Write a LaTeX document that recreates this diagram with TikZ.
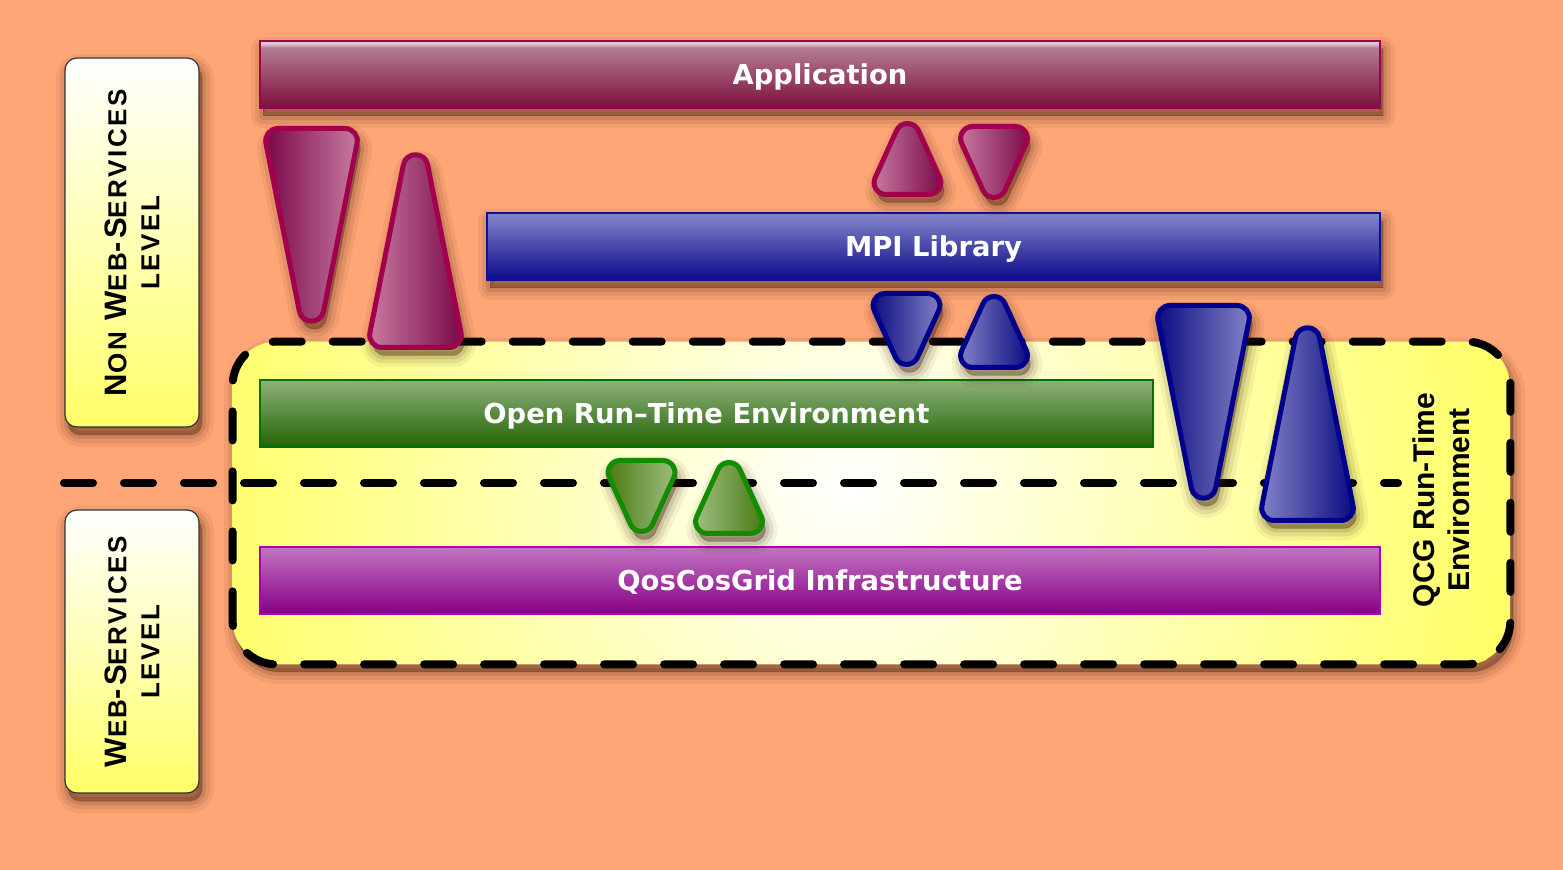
\documentclass[tikz,border=0pt]{standalone}
\usepackage{fontspec}
\usetikzlibrary{calc}
\setmainfont{DejaVu Sans}
\newfontfamily\lvlfont[LetterSpace=10]{Liberation Sans}
\newfontfamily\qcgfont{Liberation Sans}
\definecolor{bgc}{RGB}{255,166,118}
\definecolor{yellowc}{RGB}{255,255,104}
\definecolor{shadowc}{RGB}{60,28,12}
% bars
\definecolor{apph}{RGB}{226,200,210}
\definecolor{appt}{RGB}{180,124,144}
\definecolor{appd}{RGB}{124,14,62}
\definecolor{appb}{RGB}{160,0,75}
\definecolor{mpit}{RGB}{134,134,204}
\definecolor{mpid}{RGB}{10,10,136}
\definecolor{mpib}{RGB}{16,16,146}
\definecolor{ortet}{RGB}{142,178,122}
\definecolor{orted}{RGB}{34,100,6}
\definecolor{orteb}{RGB}{0,112,0}
\definecolor{qcgt}{RGB}{194,116,194}
\definecolor{qcgd}{RGB}{134,0,134}
\definecolor{qcgb}{RGB}{176,0,176}
% triangles
\definecolor{crd}{RGB}{122,8,72}
\definecolor{crl}{RGB}{200,124,162}
\definecolor{crb}{RGB}{160,0,76}
\definecolor{bld}{RGB}{10,10,128}
\definecolor{bll}{RGB}{132,132,200}
\definecolor{blb}{RGB}{0,0,140}
\definecolor{grd}{RGB}{72,122,18}
\definecolor{grl}{RGB}{162,192,132}
\definecolor{grb}{RGB}{20,140,0}
\pgfdeclareradialshading{qcgshade}{\pgfpoint{0bp}{0bp}}{color(0bp)=(white); color(25bp)=(yellowc); color(50bp)=(yellowc)}
\pgfdeclareverticalshading{appshade}{100bp}{color(0bp)=(appd); color(25bp)=(appd); color(70bp)=(appt); color(73bp)=(apph); color(75bp)=(apph); color(100bp)=(apph)}
\newcommand\fsc[2]{{\fontsize{15.5}{16.5}\selectfont #1}{\fontsize{13}{16.5}\selectfont #2}}
% rounded triangle: #1 options, #2 apex, #3 #4 base corners,
% #5 #6 tangent distances (pt) at apex / base, #7 #8 control factors at apex / base
\newcommand\rtri[8]{%
  \path[#1] ($(#2)!#5pt!(#3)$) -- ($(#3)!#6pt!(#2)$)
    .. controls ($(#3)!#8*#6pt!(#2)$) and ($(#3)!#8*#6pt!(#4)$) .. ($(#3)!#6pt!(#4)$)
    -- ($(#4)!#6pt!(#3)$)
    .. controls ($(#4)!#8*#6pt!(#3)$) and ($(#4)!#8*#6pt!(#2)$) .. ($(#4)!#6pt!(#2)$)
    -- ($(#2)!#5pt!(#4)$)
    .. controls ($(#2)!#7*#5pt!(#4)$) and ($(#2)!#7*#5pt!(#3)$) .. ($(#2)!#5pt!(#3)$)
    -- cycle;}
\newcommand\tallDown[3]{\rtri{#1}{{#2},{#3+246}}{{#2-48.5},{#3+2.5}}{{#2+48.5},{#3+2.5}}{31}{7.5}{0.78}{0.48}}
\newcommand\tallUp[3]{\rtri{#1}{{#2},{#3-246}}{{#2+48.5},{#3-2.5}}{{#2-48.5},{#3-2.5}}{31}{7.5}{0.78}{0.48}}
\newcommand\smallDown[3]{\rtri{#1}{{#2},{#3+90.5}}{{#2-40},{#3+2.5}}{{#2+40},{#3+2.5}}{13.2}{9.3}{0.61}{0.53}}
\newcommand\smallUp[3]{\rtri{#1}{{#2},{#3-90.5}}{{#2+40},{#3-2.5}}{{#2-40},{#3-2.5}}{13.2}{9.3}{0.61}{0.53}}
\tikzset{
  shadowlayer/.style={draw=shadowc, fill=shadowc, draw opacity=#1, fill opacity=#1, solid, line join=round},
  softshadow/.style={
    preaction={shadowlayer=0.06, line width=12pt, transform canvas={shift={(1.5pt,-4pt)}}},
    preaction={shadowlayer=0.09, line width=8pt, transform canvas={shift={(1.5pt,-4pt)}}},
    preaction={shadowlayer=0.12, line width=4pt, transform canvas={shift={(1.5pt,-4pt)}}},
    preaction={shadowlayer=0.16, line width=0.5pt, transform canvas={shift={(1.5pt,-4pt)}}}},
  bar/.style={draw, line width=1pt, text=white, inner sep=0pt, text height=9.9pt, text depth=0pt,
    font=\bfseries\fontsize{13.7}{16}\selectfont, minimum height=33.5pt},
  lvlbox/.style={draw=black!80, line width=0.6pt, rounded corners=6pt, top color=white,
    bottom color=yellowc, minimum width=67pt, inner sep=0pt, softshadow},
  lvltext/.style={rotate=90, align=center, font=\lvlfont\bfseries\fontsize{15.5}{16.5}\selectfont},
  qcgbox/.style={fill=yellowc, rounded corners=22pt, minimum width=638.5pt,
    minimum height=161pt, inner sep=0pt, softshadow},
  dashline/.style={line width=4pt, line cap=round, dash pattern=on 14.5pt off 15.5pt},
  tri/.style={line width=2.5pt, line join=round, softshadow}
}
\begin{document}
\begin{tikzpicture}[x=0.5pt, y=-0.5pt]
\useasboundingbox (0,0) rectangle (1563,870);
\fill[bgc] (0,0) rectangle (1563,870);

% level boxes
\node[lvlbox, minimum height=184.5pt] (nonws) at (132,242.5) {};
\node[lvltext] (nonwst) at (nonws.center) {\fsc{N}{ON} \fsc{W}{EB}-\fsc{S}{ERVICES}\\\fsc{}{LEVEL}};
\node[lvlbox, minimum height=141.5pt] (ws) at (132,651.5) {};
\node[lvltext] (wst) at (ws.center) {\fsc{W}{EB}-\fsc{S}{ERVICES}\\\fsc{}{LEVEL}};

% QCG region
\node[qcgbox] (qcg) at (871.5,503) {};
\begin{scope}
  \clip[rounded corners=22pt] (qcg.south west) rectangle (qcg.north east);
  \shade[shading=qcgshade] (850,485) circle (330pt);
\end{scope}
\draw[dashline, rounded corners=22pt] (qcg.south west) rectangle (qcg.north east);
\node[rotate=90, align=center, font=\qcgfont\bfseries\fontsize{15}{17.5}\selectfont] (qcgt) at (1441,500) {QCG Run-Time\\Environment};

% separating line
\coordinate (sepl) at (64,483);
\coordinate (sepr) at (1398,483);
\draw[dashline] (sepl) -- (sepr);

% bars
\node[bar, softshadow, draw=appb, shading=appshade, minimum width=560pt] (app) at (820,74.5) {Application};
\node[bar, softshadow, draw=mpib, top color=mpit, bottom color=mpid, minimum width=446.5pt] (mpi) at (933.5,246.5) {MPI Library};
\node[bar, draw=orteb, top color=ortet, bottom color=orted, minimum width=446.5pt] (orte) at (706.5,413.5) {Open Run--Time Environment};
\node[bar, draw=qcgb, top color=qcgt, bottom color=qcgd, minimum width=560pt] (qcgi) at (820,580.5) {QosCosGrid Infrastructure};

% crimson triangles
\tallDown{tri, draw=crb, left color=crd, right color=crl}{311.5}{126}
\tallUp{tri, draw=crb, left color=crl, right color=crd}{415.5}{350}
\smallUp{tri, draw=crb, left color=crl, right color=crd}{907.5}{197}
\smallDown{tri, draw=crb, left color=crl, right color=crd}{994}{124}
% blue triangles
\smallDown{tri, draw=blb, left color=bld, right color=bll}{906.5}{291}
\smallUp{tri, draw=blb, left color=bll, right color=bld}{994}{370}
\tallDown{tri, draw=blb, left color=bld, right color=bll}{1203.5}{303}
\tallUp{tri, draw=blb, left color=bll, right color=bld}{1307.5}{523}
% green triangles
\smallDown{tri, draw=grb, left color=grd, right color=grl}{641.5}{458}
\smallUp{tri, draw=grb, left color=grl, right color=grd}{729}{536}
\end{tikzpicture}
\end{document}
